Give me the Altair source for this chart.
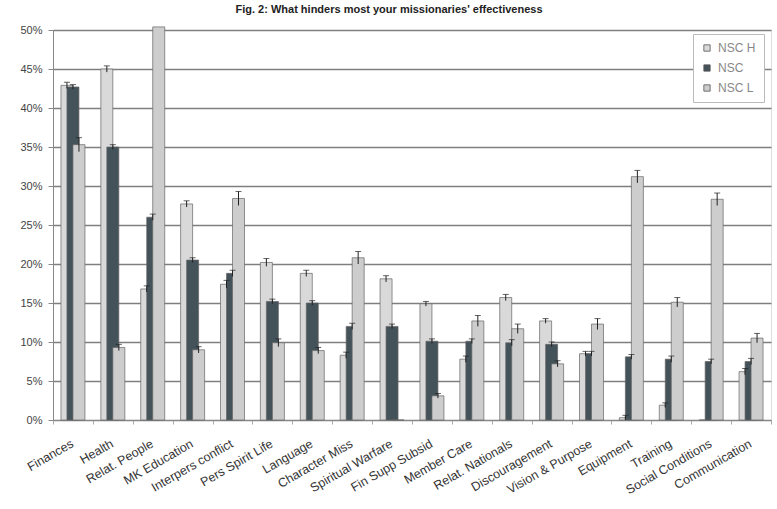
import altair as alt
import pandas as pd

categories = ["Finances", "Health", "Relat. People", "MK Education", "Interpers conflict",
              "Pers Spirit Life", "Language", "Character Miss", "Spiritual Warfare",
              "Fin Supp Subsid", "Member Care", "Relat. Nationals", "Discouragement",
              "Vision & Purpose", "Equipment", "Training", "Social Conditions", "Communication"]
series = ["NSC H", "NSC", "NSC L"]

nsc_h = [42.9, 45.0, 16.8, 27.7, 17.4, 20.2, 18.8, 8.3, 18.1, 14.9, 7.8, 15.7, 12.7, 8.5, 0.3, 1.9, 0.0, 6.2]
nsc   = [42.7, 35.0, 26.0, 20.5, 18.8, 15.2, 15.0, 12.0, 12.0, 10.1, 10.1, 9.9, 9.7, 8.5, 8.1, 7.8, 7.5, 7.5]
nsc_l = [35.3, 9.3, 50.4, 9.0, 28.4, 9.9, 8.9, 20.8, 0.0, 3.1, 12.7, 11.7, 7.2, 12.3, 31.2, 15.1, 28.3, 10.5]

err_h = [0.4, 0.4, 0.4, 0.4, 0.5, 0.5, 0.4, 0.4, 0.4, 0.3, 0.4, 0.4, 0.3, 0.3, 0.3, 0.3, 0.0, 0.4]
err_n = [0.3, 0.3, 0.4, 0.3, 0.4, 0.3, 0.3, 0.4, 0.3, 0.3, 0.3, 0.4, 0.3, 0.3, 0.3, 0.4, 0.3, 0.4]
err_l = [0.9, 0.4, 0.0, 0.4, 0.9, 0.5, 0.4, 0.8, 0.0, 0.3, 0.7, 0.6, 0.4, 0.7, 0.8, 0.6, 0.8, 0.6]

y_ticks = [0, 5, 10, 15, 20, 25, 30, 35, 40, 45, 50]

rows = []
for s, vals, errs in zip(series, [nsc_h, nsc, nsc_l], [err_h, err_n, err_l]):
    for c, v, e in zip(categories, vals, errs):
        rows.append({"category": c, "series": s, "value": v, "err": e,
                     "lo": v - e, "hi": v + e})
df = pd.DataFrame(rows)

fills = ["#d9d9d9", "#44525a", "#cdcdcd"]
offsets = [-6, 0, 6]

x_axis = alt.Axis(title=None, labelAngle=-30, labelAlign="right",
                  labelBaseline="top", tickBand="extent", tickSize=4,
                  tickColor="#aaa", labelPadding=13, labelOffset=-4, labelOverlap=False,
                  labelFont="Liberation Sans", labelFontSize=12.5,
                  labelColor="#333", domainColor="#888")
x_enc = alt.X("category:N", sort=categories,
              scale=alt.Scale(paddingInner=0, paddingOuter=0), axis=x_axis)
y_scale = alt.Scale(domain=[0, 50], nice=False)
y_axis = alt.Axis(title=None, values=y_ticks, labelExpr="datum.value + '%'",
                  labelOverlap=False, grid=True, gridColor="#7f7f7f", gridWidth=1.6,
                  tickSize=5, tickColor="#888", labelPadding=6,
                  labelFont="Liberation Sans", labelFontSize=11, labelColor="#444",
                  domainColor="#888")

base = alt.Chart(df)
layers = []
for s, off in zip(series, offsets):
    bars = base.transform_filter(alt.datum.series == s).mark_bar(
        width=12, xOffset=off, stroke="#666", strokeWidth=0.7
    ).encode(
        x=x_enc,
        y=alt.Y("value:Q", scale=y_scale, axis=y_axis),
        color=alt.Color("series:N", sort=series,
                        scale=alt.Scale(domain=series, range=fills),
                        legend=alt.Legend(title=None, orient="none", legendX=640, legendY=4,
                                          symbolType="square", symbolSize=40,
                                          symbolStrokeColor="#555", symbolStrokeWidth=0.8,
                                          labelFont="Liberation Sans", labelFontSize=12,
                                          labelColor="#888", padding=8, rowPadding=8,
                                          labelOffset=5, strokeColor="#bbb",
                                          fillColor="white")),
    )
    layers.append(bars)
for s, off in zip(series, offsets):
    sub = base.transform_filter((alt.datum.series == s) & (alt.datum.err > 0))
    rule = sub.mark_rule(xOffset=off, color="#222", strokeWidth=1).encode(
        x=x_enc,
        y=alt.Y("lo:Q", scale=y_scale, axis=y_axis),
        y2="hi:Q",
    )
    cap = sub.mark_tick(xOffset=off, color="#222", size=6, thickness=1).encode(
        x=x_enc,
        y=alt.Y("hi:Q", scale=y_scale, axis=y_axis),
    )
    layers += [rule, cap]

chart = alt.layer(*layers).properties(
    width=718, height=390,
    autosize=alt.AutoSizeParams(type="none"),
    padding={"left": 53, "top": 30, "right": 6, "bottom": 89},
    title=alt.TitleParams("Fig. 2:  What hinders most your missionaries' effectiveness",
                          font="Liberation Sans", fontSize=11, fontWeight="bold",
                          anchor="middle", dx=-23, offset=9, color="#222"),
).configure_view(stroke="#888", strokeWidth=1).configure(background="white")

chart.save("out.html", embed_options={"renderer": "svg", "actions": False})
